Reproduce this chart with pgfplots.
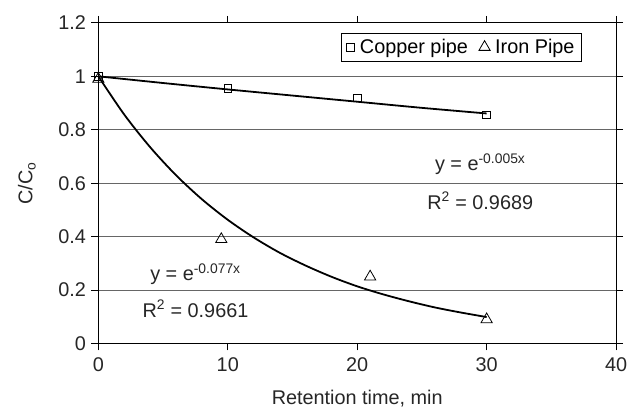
\documentclass[border=0pt]{standalone}
\usepackage{fontspec}
\setmainfont{Liberation Sans}
\usepackage{pgfplots}
\pgfplotsset{compat=1.18}
\begin{document}
\newcommand{\bigf}{\fontsize{20}{23}\selectfont}
\begin{tikzpicture}
\begin{axis}[
  scale only axis,
  width=520bp, height=322bp,
  xmin=0, xmax=40, ymin=0, ymax=1.2,
  xtick={0,10,20,30,40},
  ytick={0,0.2,0.4,0.6,0.8,1,1.2},
  /pgf/number format/assume math mode=true,
  /pgf/number format/.cd, fixed, precision=1, /pgfplots/.cd,
  tick align=outside, major tick length=7bp,
  tick style={black, line width=0.8bp},
  axis line style={black, line width=0.9bp},
  ymajorgrids, grid style={black!60, line width=0.8bp},
  ticklabel style={font=\bigf, text=black!85},
  xticklabel style={yshift=-4bp},
  yticklabel style={xshift=-2bp},
  xlabel={Retention time, min},
  ylabel={C/C\textsubscript{o}},
  label style={font=\bigf, text=black!85},
  xlabel style={at={(axis description cs:0.5,0)}, anchor=center, yshift=-55bp},
  ylabel style={at={(axis description cs:-0.138,0.5)}, anchor=center},
  legend style={at={(rel axis cs:0.934,0.969)}, anchor=north east,
    draw=black, line width=0.8bp, legend columns=2,
    font=\fontsize{20}{23}\selectfont, inner ysep=4bp, inner xsep=5bp,
    /tikz/every even column/.append style={column sep=9bp}},
  legend cell align=left,
  clip=false,
]
\addplot[black, line width=1.8bp, smooth, forget plot] coordinates {
 (0,1) (5,0.975) (10,0.951) (15,0.928) (20,0.905) (25,0.882) (30,0.861)};
\addplot[black, line width=1.8bp, smooth, forget plot] coordinates {
 (0,1) (2,0.857) (4,0.735) (6,0.630) (8,0.540) (10,0.463) (12,0.397)
 (14,0.340) (16,0.292) (18,0.250) (20,0.214) (22,0.184) (24,0.158)
 (26,0.135) (28,0.116) (30,0.099)};
\addplot[only marks, mark=square, mark size=3.8bp, mark options={black, line width=0.8bp, fill=white}]
 coordinates {(0,1) (10,0.955) (20,0.92) (30,0.855)};
\addlegendentry{\hspace{4bp}Copper pipe}
\addplot[only marks, mark=triangle, mark size=6.5bp, mark options={black, line width=0.8bp, fill=white}]
 coordinates {(0,0.99) (9.5,0.39) (21,0.25) (30,0.09)};
\addlegendentry{\hspace{3bp}Iron Pipe}
\node[anchor=west, font=\bigf, text=black!85, inner sep=0pt] at (axis cs:26.0,0.672) {y = e\textsuperscript{-0.005x}};
\node[anchor=west, font=\bigf, text=black!85, inner sep=0pt] at (axis cs:25.4,0.534) {R\textsuperscript{2} = 0.9689};
\node[anchor=west, font=\bigf, text=black!85, inner sep=0pt] at (axis cs:4.0,0.26) {y = e\textsuperscript{-0.077x}};
\node[anchor=west, font=\bigf, text=black!85, inner sep=0pt] at (axis cs:3.4,0.13) {R\textsuperscript{2} = 0.9661};
\end{axis}
\useasboundingbox ([shift={(-96bp,-71bp)}]current axis.south west) rectangle ([shift={(16bp,23bp)}]current axis.north east);
\end{tikzpicture}
\end{document}
